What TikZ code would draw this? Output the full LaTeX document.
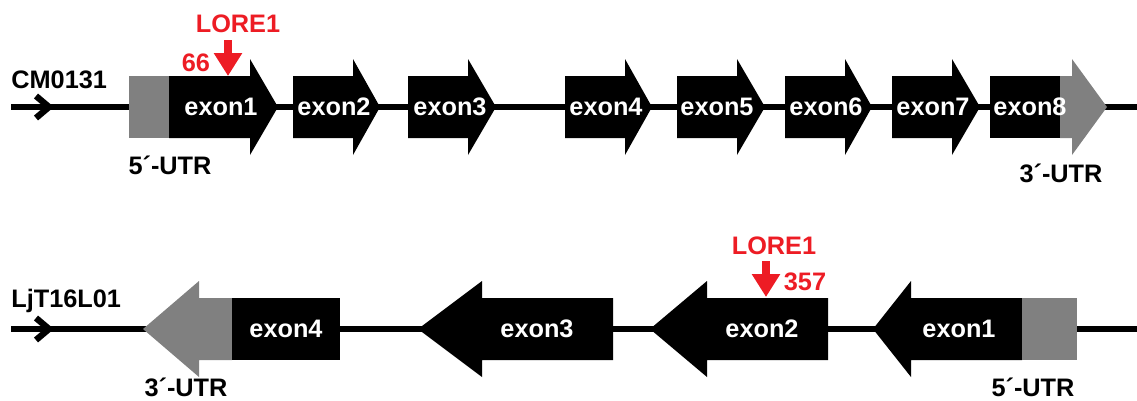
\documentclass[tikz,border=0pt]{standalone}
\usepackage{fontspec}
\setmainfont{Liberation Sans}
\usetikzlibrary{arrows.meta}
\definecolor{loreRed}{RGB}{237,28,36}
\definecolor{utrGray}{RGB}{128,128,128}
\begin{document}
\begin{tikzpicture}[x=0.02cm,y=-0.02cm,
  every node/.style={font=\fontsize{14.4}{17}\selectfont\bfseries,inner sep=0pt},
  exon/.style={fill=black},
  utr/.style={fill=utrGray},
  strand/.style={line width=3.3pt},
  chev/.style={line width=3.6pt,miter limit=10},
  insert/.style={loreRed,line width=5pt,-{Triangle[length=0.46cm,width=0.54cm]}},
  ename/.style={text=white},
  lorelbl/.style={text=loreRed}]
  \useasboundingbox (0,0) rectangle (1137,400);
  \coordinate (a0) at (11,107);
  \coordinate (a1) at (1137,107);
  \draw[strand] (a0) -- (a1);
  \draw[chev] (36,96) -- (49,107) -- (36,118);
  \fill[utr] (129,76) rectangle (169,138);
  \fill[exon] (169,76) -- (250,76) -- (250,59) -- (278,107) -- (250,155) -- (250,138) -- (169,138) -- cycle;
  \fill[exon] (293,76) -- (353,76) -- (353,59) -- (380,107) -- (353,155) -- (353,138) -- (293,138) -- cycle;
  \fill[exon] (408,76) -- (468,76) -- (468,59) -- (496,107) -- (468,155) -- (468,138) -- (408,138) -- cycle;
  \fill[exon] (565,76) -- (625,76) -- (625,59) -- (652,107) -- (625,155) -- (625,138) -- (565,138) -- cycle;
  \fill[exon] (677,76) -- (737,76) -- (737,59) -- (765,107) -- (737,155) -- (737,138) -- (677,138) -- cycle;
  \fill[exon] (785,76) -- (845,76) -- (845,59) -- (872,107) -- (845,155) -- (845,138) -- (785,138) -- cycle;
  \fill[exon] (892,76) -- (952,76) -- (952,59) -- (980,107) -- (952,155) -- (952,138) -- (892,138) -- cycle;
  \fill[exon] (990,76) rectangle (1060,138);
  \fill[utr] (1060,76) -- (1072,76) -- (1072,59) -- (1107,107) -- (1072,155) -- (1072,138) -- (1060,138) -- cycle;
  \node[anchor=base west] (cm) at (11,88) {CM0131};
  \node[ename] (ea1) at (221,107) {exon1};
  \node[ename] (ea2) at (334,107) {exon2};
  \node[ename] (ea3) at (450,107) {exon3};
  \node[ename] (ea4) at (606,107) {exon4};
  \node[ename] (ea5) at (717,107) {exon5};
  \node[ename] (ea6) at (826,107) {exon6};
  \node[ename] (ea7) at (933,107) {exon7};
  \node[ename] (ea8) at (1030,107) {exon8};
  \node (utr5a) at (170,165) {5´-UTR};
  \node (utr3a) at (1061,173) {3´-UTR};
  \node[lorelbl] (lorea) at (238,24) {LORE1};
  \node[lorelbl] (posa) at (196,63) {66};
  \coordinate (insa0) at (228,40);
  \coordinate (insa1) at (228,76);
  \draw[insert] (insa0) -- (insa1);
  \coordinate (b0) at (11,329);
  \coordinate (b1) at (1137,329);
  \draw[strand] (b0) -- (b1);
  \draw[chev] (36,318) -- (49,329) -- (36,340);
  \fill[utr] (143,329) -- (199,281) -- (199,298) -- (232,298) -- (232,360) -- (199,360) -- (199,377) -- cycle;
  \fill[exon] (232,298) rectangle (340,360);
  \fill[exon] (418,329) -- (482,281) -- (482,298) -- (613,298) -- (613,360) -- (482,360) -- (482,377) -- cycle;
  \fill[exon] (650,329) -- (707,281) -- (707,298) -- (828,298) -- (828,360) -- (707,360) -- (707,377) -- cycle;
  \fill[exon] (873,329) -- (911,281) -- (911,298) -- (1022,298) -- (1022,360) -- (911,360) -- (911,377) -- cycle;
  \fill[utr] (1022,298) rectangle (1077,360);
  \node[anchor=base west] (lj) at (11,307) {LjT16L01};
  \node[ename] (eb4) at (286,329) {exon4};
  \node[ename] (eb3) at (537,329) {exon3};
  \node[ename] (eb2) at (762,329) {exon2};
  \node[ename] (eb1) at (959,329) {exon1};
  \node (utr3b) at (186,387) {3´-UTR};
  \node (utr5b) at (1033,387) {5´-UTR};
  \node[lorelbl] (loreb) at (774,246) {LORE1};
  \node[lorelbl] (posb) at (805,282) {357};
  \coordinate (insb0) at (766,261);
  \coordinate (insb1) at (766,297);
  \draw[insert] (insb0) -- (insb1);
\end{tikzpicture}
\end{document}
